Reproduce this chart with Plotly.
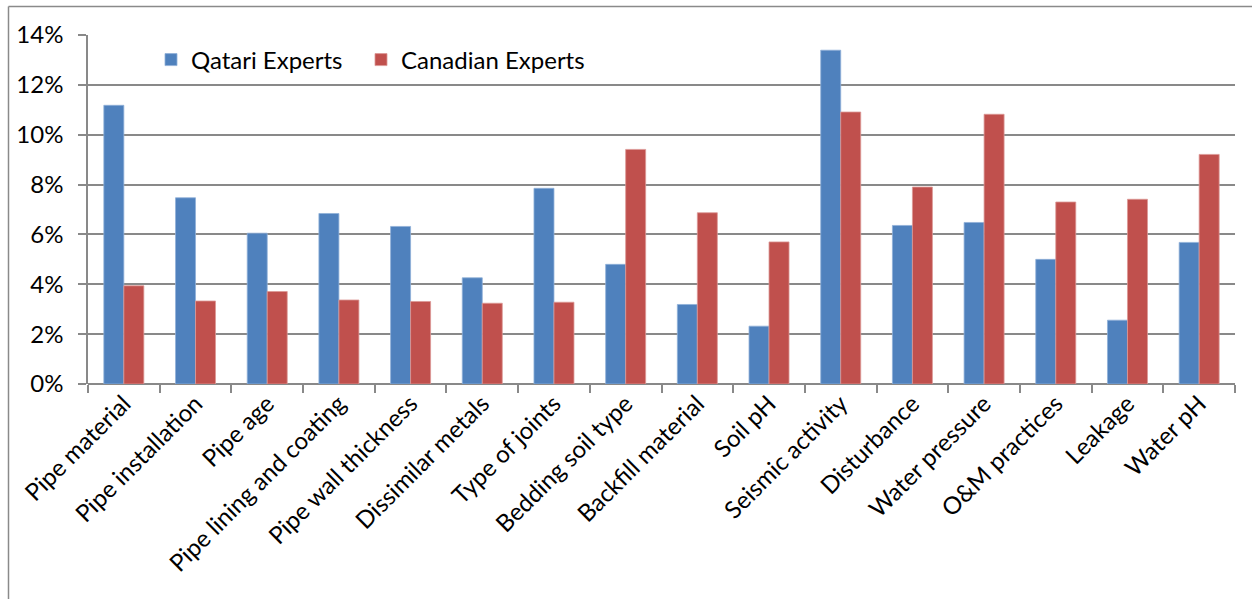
import plotly.graph_objects as go

categories = ["Pipe material", "Pipe installation", "Pipe age", "Pipe lining and coating",
              "Pipe wall thickness", "Dissimilar metals", "Type of joints", "Bedding soil type",
              "Backfill material", "Soil pH", "Seismic activity", "Disturbance",
              "Water pressure", "O&M practices", "Leakage", "Water pH"]
qatari = [11.18, 7.47, 6.05, 6.84, 6.32, 4.26, 7.85, 4.80, 3.19, 2.32, 13.39, 6.36, 6.48, 5.00, 2.56, 5.68]
canadian = [3.94, 3.33, 3.71, 3.37, 3.31, 3.24, 3.28, 9.41, 6.87, 5.70, 10.91, 7.90, 10.82, 7.30, 7.41, 9.21]
y_ticks = [0, 2, 4, 6, 8, 10, 12, 14]

FONT = "Lato"
FS = 24
GRID = "#898989"

fig = go.Figure()
fig.add_trace(go.Bar(x=categories, y=[v / 100 for v in qatari], name="Qatari Experts",
                     legend="legend",
                     marker=dict(color="#4F81BD", line=dict(color="#8FB0D8", width=0.8))))
fig.add_trace(go.Bar(x=categories, y=[v / 100 for v in canadian], name="Canadian Experts",
                     legend="legend2",
                     marker=dict(color="#C0504D", line=dict(color="#DC9896", width=0.8))))

L, R, T, B = 88, 17, 35, 215
W, H = 1252, 599
pw, ph = W - L - R, H - T - B

def px_x(p):
    return (p - L) / pw

def px_y(p):
    return (H - B - p) / ph

leg_common = dict(orientation="h", y=px_y(60), xanchor="left", yanchor="middle",
                  bgcolor="rgba(0,0,0,0)", font=dict(family=FONT, size=FS), itemwidth=30)

fig.update_layout(
    width=W, height=H,
    margin=dict(l=L, r=R, t=T, b=B),
    paper_bgcolor="white", plot_bgcolor="white",
    barmode="group", bargap=0.442, bargroupgap=0,
    font=dict(family=FONT, size=FS, color="black"),
    showlegend=True,
    legend=dict(x=px_x(151), **leg_common),
    legend2=dict(x=px_x(361), **leg_common),
    xaxis=dict(showgrid=False, showline=False, ticks="outside", tickson="boundaries",
               ticklen=8, tickwidth=1.5, tickcolor=GRID, tickangle=-45,
               tickfont=dict(family=FONT, size=FS)),
    yaxis=dict(range=[0, 0.14], tickvals=[v / 100 for v in y_ticks],
               ticktext=[f"{v}%" for v in y_ticks],
               showgrid=True, gridcolor=GRID, gridwidth=1.5,
               showline=True, linecolor=GRID, linewidth=1.5,
               ticks="outside", ticklen=8, tickwidth=1.5, tickcolor=GRID,
               ticklabelstandoff=10, zeroline=True, zerolinecolor=GRID, zerolinewidth=1.5,
               tickfont=dict(family=FONT, size=FS)),
    shapes=[
        dict(type="line", xref="paper", yref="paper", x0=px_x(8.5), x1=px_x(W + 5),
             y0=px_y(6.5), y1=px_y(6.5), line=dict(color="#8a8a8a", width=1.5)),
        dict(type="line", xref="paper", yref="paper", x0=px_x(8.5), x1=px_x(8.5),
             y0=px_y(6.5), y1=px_y(H + 5), line=dict(color="#8a8a8a", width=1.5)),
    ],
)

fig.write_html("out.html")
